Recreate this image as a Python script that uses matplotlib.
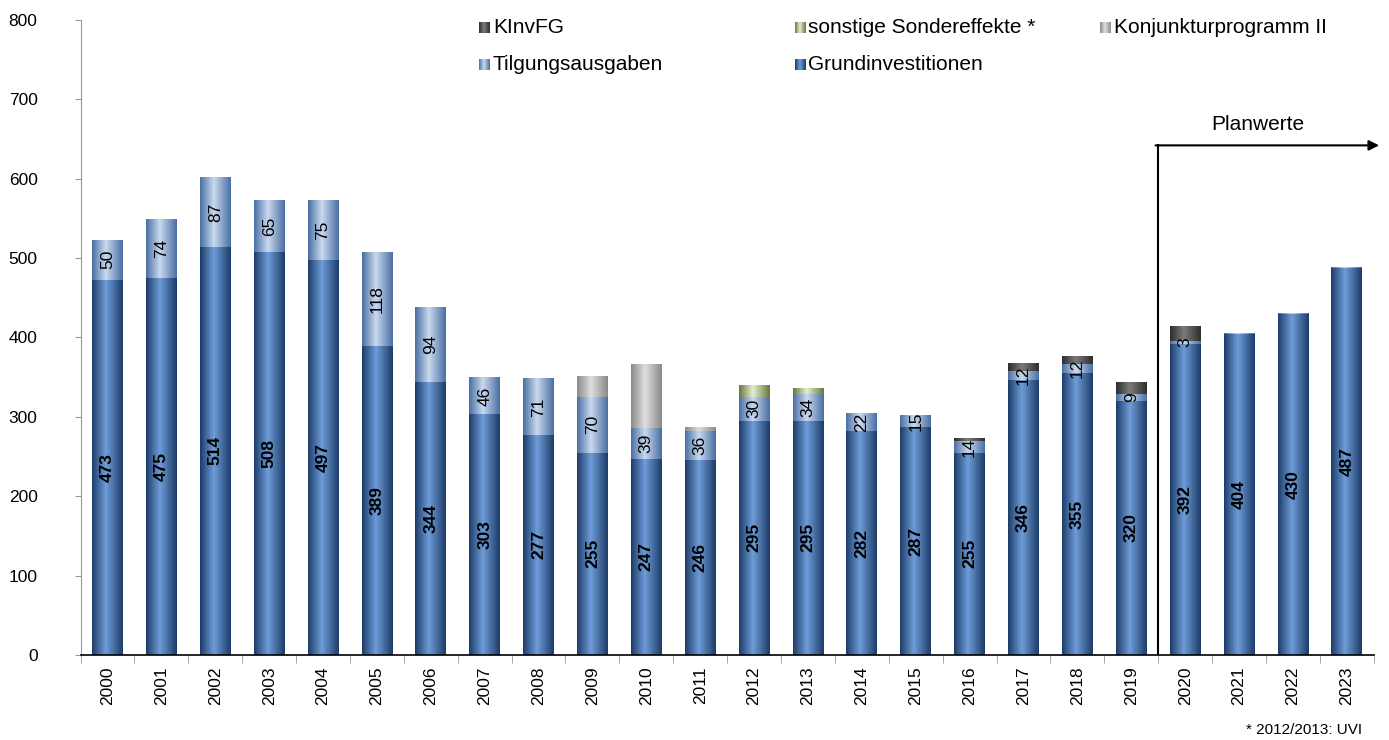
import matplotlib.pyplot as plt
import numpy as np
from matplotlib.colors import LinearSegmentedColormap

plt.rcParams["font.family"] = ["Liberation Sans", "DejaVu Sans"]

years = [str(y) for y in range(2000, 2024)]
grund = [473, 475, 514, 508, 497, 389, 344, 303, 277, 255, 247, 246,
         295, 295, 282, 287, 255, 346, 355, 320, 392, 404, 430, 487]
tilgung = [50, 74, 87, 65, 75, 118, 94, 46, 71, 70, 39, 36,
           30, 34, 22, 15, 14, 12, 12, 9, 3, 1, 1, 1]
konjunktur = [0, 0, 0, 0, 0, 0, 0, 0, 0, 26, 80, 4,
              0, 0, 0, 0, 0, 0, 0, 0, 0, 0, 0, 0]
sonstige = [0, 0, 0, 0, 0, 0, 0, 0, 0, 0, 0, 0,
            14, 7, 0, 0, 0, 0, 0, 0, 0, 0, 0, 0]
kinvfg = [0, 0, 0, 0, 0, 0, 0, 0, 0, 0, 0, 0,
          0, 0, 0, 0, 3, 9, 10, 14, 18, 0, 0, 0]

# (edge colour, highlight colour) for the cylinder look
styles = {
    "Grundinvestitionen": ("#1d3c68", "#6d9cd8"),
    "Tilgungsausgaben": ("#4a6fa3", "#c8d8ee"),
    "Konjunkturprogramm II": ("#8a8a8a", "#dedede"),
    "sonstige Sondereffekte *": ("#66793a", "#e4ecd0"),
    "KInvFG": ("#2e2e2e", "#7a7a7a"),
}


def make_cmap(edge, mid):
    return LinearSegmentedColormap.from_list("c", [edge, mid, edge])


grad = np.concatenate([np.linspace(0, 0.5, 45), np.linspace(0.5, 1, 55)])[None, :]

fig = plt.figure(figsize=(13.89, 7.40), dpi=100)
ax = fig.add_axes([0.058, 0.115, 0.931, 0.858])

x = np.arange(len(years))
w = 0.57
series = [
    ("Grundinvestitionen", grund),
    ("Tilgungsausgaben", tilgung),
    ("Konjunkturprogramm II", konjunktur),
    ("sonstige Sondereffekte *", sonstige),
    ("KInvFG", kinvfg),
]
bottom = np.zeros(len(years))
for name, vals in series:
    vals = np.array(vals, dtype=float)
    cmap = make_cmap(*styles[name])
    for xi, b, v in zip(x, bottom, vals):
        if v <= 0:
            continue
        ax.imshow(grad, cmap=cmap, aspect="auto", interpolation="bilinear",
                  extent=[xi - w / 2, xi + w / 2, b, b + v], zorder=2)
    bottom = bottom + vals

# value labels
for xi, g, t in zip(x, grund, tilgung):
    ax.text(xi, g / 2, str(g), rotation=90, ha="center", va="center",
            fontsize=12.5, fontweight="bold", zorder=4)
    if t >= 3:
        ax.text(xi, g + t / 2, str(t), rotation=90, ha="center", va="center",
                fontsize=12.5, zorder=4)

ax.set_xlim(-0.5, len(years) - 0.5)
ax.set_ylim(0, 800)
ax.set_yticks(np.arange(0, 801, 100))
ax.set_xticks(x)
ax.set_xticklabels(years, rotation=90, fontsize=12.5)
ax.set_xticks(np.arange(-0.5, len(years), 1), minor=True)
ax.tick_params(axis="x", which="major", length=0, pad=8)
ax.tick_params(axis="x", which="minor", length=6, color="#999999")
ax.tick_params(axis="y", labelsize=12.5, length=4, color="#999999", pad=27)
for s in ["top", "right"]:
    ax.spines[s].set_visible(False)
ax.spines["left"].set_color("#999999")
ax.spines["bottom"].set_color("black")
ax.spines["bottom"].set_linewidth(1.2)

# Planwerte marker
ax.plot([19.5, 19.5], [0, 642], color="black", lw=1.5, zorder=5)
ax.annotate("", xy=(23.6, 642), xytext=(19.45, 642),
            arrowprops=dict(arrowstyle="-|>", color="black", lw=1.5,
                            mutation_scale=15, shrinkA=0, shrinkB=0),
            annotation_clip=False, zorder=5)
ax.text(21.35, 668, "Planwerte", ha="center", va="center", fontsize=15)

# legend drawn by hand
legend_items = [
    ("KInvFG", 0.345, 0.963),
    ("sonstige Sondereffekte *", 0.572, 0.963),
    ("Konjunkturprogramm II", 0.792, 0.963),
    ("Tilgungsausgaben", 0.345, 0.913),
    ("Grundinvestitionen", 0.572, 0.913),
]
for name, lx, ly in legend_items:
    lax = fig.add_axes([lx, ly - 0.0078, 0.0075, 0.0145])
    lax.imshow(grad, cmap=make_cmap(*styles[name]), aspect="auto",
               interpolation="bilinear")
    lax.axis("off")
    fig.text(lx + 0.0098, ly, name, ha="left", va="center", fontsize=15)

fig.text(0.981, 0.004, "* 2012/2013: UVI", ha="right", va="bottom", fontsize=11)

fig.savefig("out.png", dpi=100)
